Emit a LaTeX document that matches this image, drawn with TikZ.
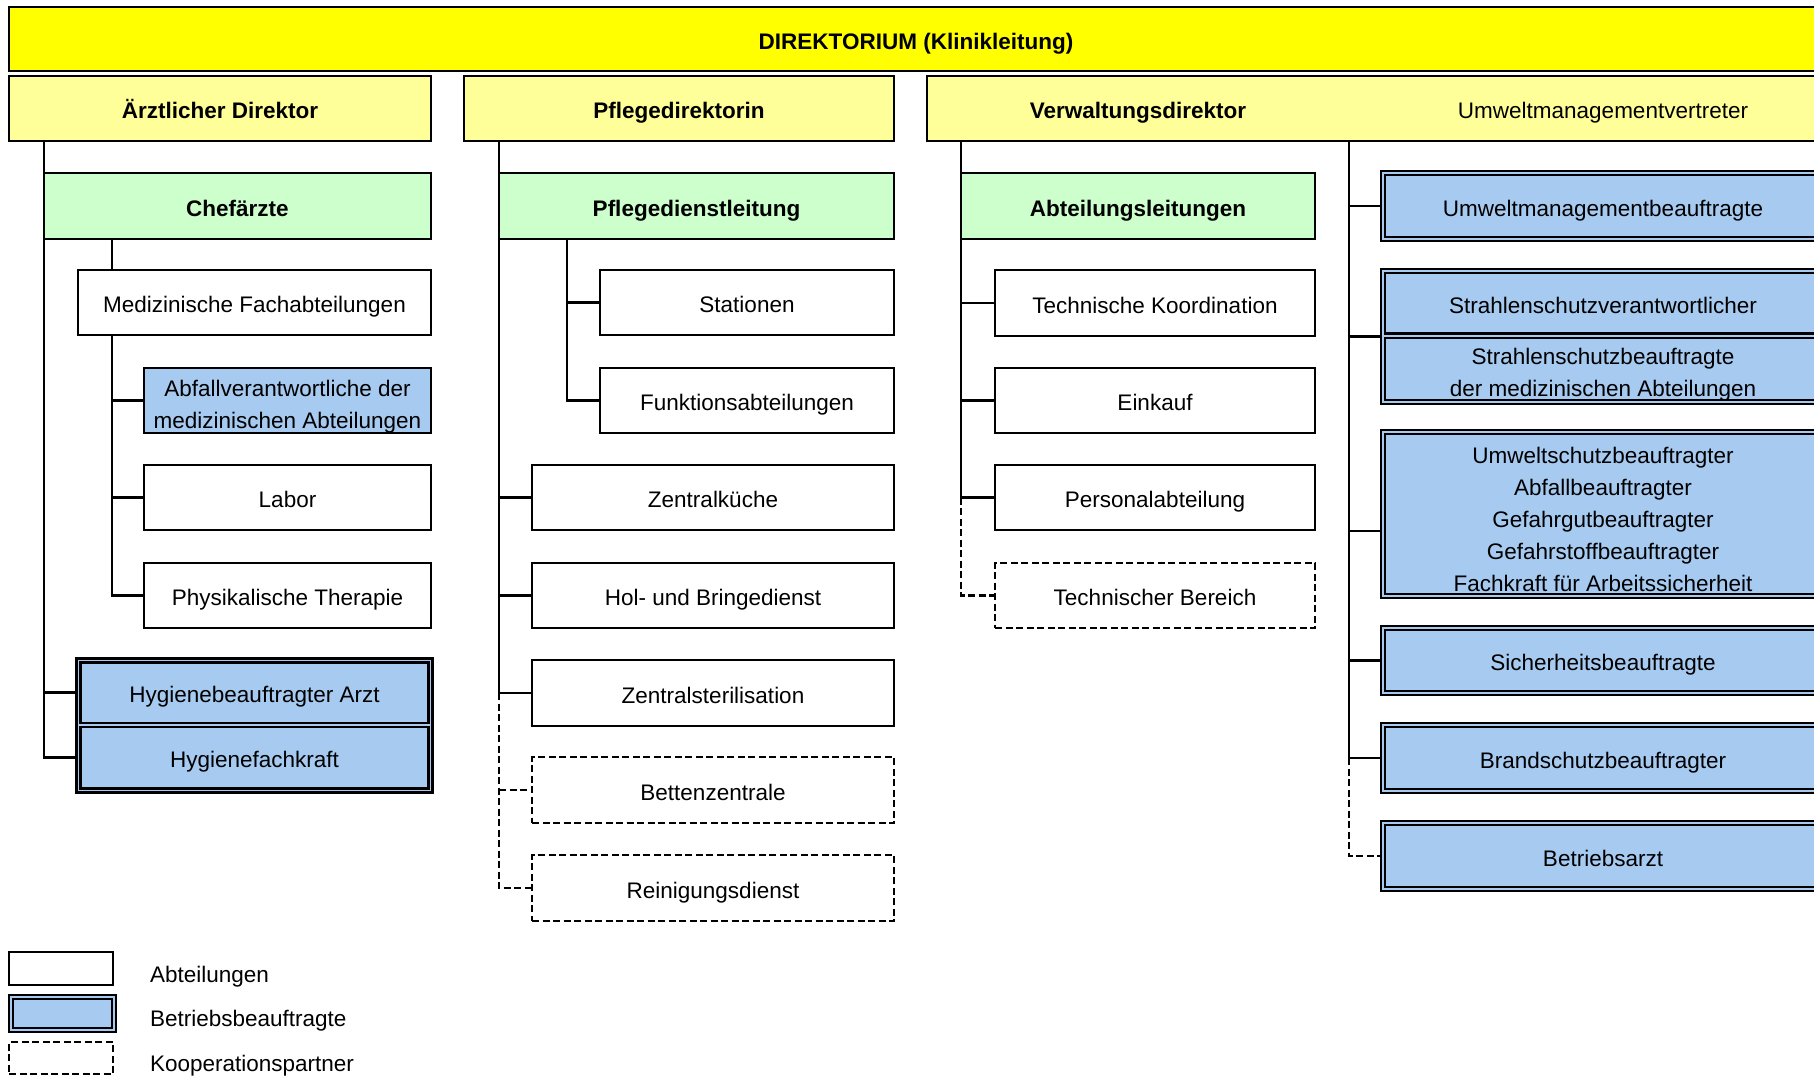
\documentclass[tikz,border=0pt]{standalone}
\usepackage{fontspec}
\setmainfont{Liberation Sans}
\usetikzlibrary{calc}
\definecolor{topyellow}{HTML}{FFFF00}
\definecolor{lyellow}{HTML}{FFFF99}
\definecolor{lgreen}{HTML}{CCFFCC}
\definecolor{pblue}{HTML}{A6CAF0}
\newcommand\orgfs{\fontsize{22.5}{32}\selectfont}
\newcommand\mkbox[7]{\node[#1, minimum width={#5-#3}, minimum height={#6-#4}] (#2) at ({(#3+#5)/2},{(#4+#6)/2}) {#7};}
\begin{document}
\begin{tikzpicture}[x=1pt,y=-1pt,
  basebox/.style={rectangle, inner sep=0pt, outer sep=0pt, font=\orgfs, text height=22pt, text depth=2pt},
  txt/.style={basebox},
  mtxt/.style={rectangle, inner sep=0pt, outer sep=0pt, font=\orgfs, align=center},
  topbox/.style={basebox, draw, line width=2.7pt, fill=topyellow, font=\orgfs\bfseries},
  head/.style={basebox, draw, line width=2.7pt, fill=lyellow, font=\orgfs\bfseries},
  lead/.style={basebox, draw, line width=2.7pt, fill=lgreen, font=\orgfs\bfseries},
  dept/.style={basebox, draw, line width=2.7pt, fill=white},
  coop/.style={basebox, draw, line width=2.4pt, fill=white, dash pattern=on 7pt off 3.5pt},
  bsingle/.style={basebox, draw, line width=2.7pt, fill=pblue},
  bout/.style={basebox, draw, line width=2.2pt, fill=pblue},
  binn/.style={basebox, draw, line width=2.2pt, fill=pblue},
  conn/.style={line width=2.7pt},
  thinconn/.style={line width=2.3pt},
  dconn/.style={line width=2.3pt, dash pattern=on 7pt off 3.5pt}]
\useasboundingbox (0,0) rectangle (1814,1076);
\clip (0,0) rectangle (1814,1076);
\fill[white] (0,0) rectangle (1814,1076);

% top level
\mkbox{topbox}{dir}{9}{7}{1823}{71}{DIREKTORIUM (Klinikleitung)}
\mkbox{head}{ad}{9}{76}{431}{141}{Ärztlicher Direktor}
\mkbox{head}{pd}{464}{76}{894}{141}{Pflegedirektorin}
\mkbox{head}{vd}{927}{76}{1830}{141}{}
\node[txt, font=\orgfs\bfseries] (vdt) at (1138,108.5) {Verwaltungsdirektor};
\node[txt] (umv) at (1603,108.5) {Umweltmanagementvertreter};

% left column
\mkbox{lead}{cf}{44}{173}{431}{239}{Chefärzte}
\mkbox{dept}{med}{78}{270}{431}{335}{Medizinische Fachabteilungen}
\mkbox{bsingle}{abf}{144}{368}{431}{433}{}
\node[mtxt] (abft) at (287.5,406.5) {Abfallverantwortliche der\\medizinischen Abteilungen};
\mkbox{dept}{lab}{144}{465}{431}{530}{Labor}
\mkbox{dept}{phy}{144}{563}{431}{628}{Physikalische Therapie}
\mkbox{bout}{hyg}{76.5}{658.5}{432.5}{792.5}{}
\mkbox{binn}{hyga}{80.5}{662.5}{428.5}{723}{Hygienebeauftragter Arzt}
\mkbox{binn}{hygf}{80.5}{727}{428.5}{788.5}{Hygienefachkraft}

% middle column
\mkbox{lead}{pdl}{499}{173}{894}{239}{Pflegedienstleitung}
\mkbox{dept}{sta}{600}{270}{894}{335}{Stationen}
\mkbox{dept}{funk}{600}{368}{894}{433}{Funktionsabteilungen}
\mkbox{dept}{zk}{532}{465}{894}{530}{Zentralküche}
\mkbox{dept}{hol}{532}{563}{894}{628}{Hol- und Bringedienst}
\mkbox{dept}{zst}{532}{660}{894}{726}{Zentralsterilisation}
\mkbox{coop}{bett}{532}{757}{894}{823}{Bettenzentrale}
\mkbox{coop}{rein}{532}{855}{894}{921}{Reinigungsdienst}

% administration column
\mkbox{lead}{al}{961}{173}{1315}{239}{Abteilungsleitungen}
\mkbox{dept}{tk}{995}{270}{1315}{336}{Technische Koordination}
\mkbox{dept}{ek}{995}{368}{1315}{433}{Einkauf}
\mkbox{dept}{pers}{995}{465}{1315}{530}{Personalabteilung}
\mkbox{coop}{tb}{995}{563}{1315}{628}{Technischer Bereich}

% environment column
\mkbox{bout}{umbo}{1381}{171}{1830}{241}{}
\mkbox{binn}{umb}{1385}{175}{1821}{237}{Umweltmanagementbeauftragte}
\mkbox{bout}{stro}{1381}{269}{1830}{404}{}
\mkbox{binn}{strv}{1385}{273}{1821}{333.5}{Strahlenschutzverantwortlicher}
\mkbox{binn}{strb}{1385}{338}{1821}{400}{}
\node[mtxt] (strbt) at (1603,374.5) {Strahlenschutzbeauftragte\\der medizinischen Abteilungen};
\mkbox{bout}{usgo}{1381}{430}{1830}{598}{}
\mkbox{binn}{usg}{1385}{434}{1821}{594}{}
\node[mtxt] (usgt) at (1603,519.5) {Umweltschutzbeauftragter\\Abfallbeauftragter\\Gefahrgutbeauftragter\\Gefahrstoffbeauftragter\\Fachkraft für Arbeitssicherheit};
\mkbox{bout}{sbo}{1381}{626}{1830}{695}{}
\mkbox{binn}{sb}{1385}{630}{1821}{691}{Sicherheitsbeauftragte}
\mkbox{bout}{bso}{1381}{723}{1830}{793}{}
\mkbox{binn}{bs}{1385}{727}{1821}{789}{Brandschutzbeauftragter}
\mkbox{bout}{bao}{1381}{821}{1830}{891}{}
\mkbox{binn}{ba}{1385}{825}{1821}{887}{Betriebsarzt}

% legend
\mkbox{dept}{lg1}{9}{952}{113}{985}{}
\node[txt, anchor=west] (lg1t) at (150,972.5) {Abteilungen};
\mkbox{bout}{lg2o}{9}{995}{116}{1032}{}
\mkbox{binn}{lg2}{13}{999}{112}{1028}{}
\node[txt, anchor=west] (lg2t) at (150,1016.5) {Betriebsbeauftragte};
\mkbox{coop}{lg3}{9}{1042}{113}{1074}{}
\node[txt, anchor=west] (lg3t) at (150,1061) {Kooperationspartner};

% trunk positions
\coordinate (tB) at (112,0);
\coordinate (tD) at (567,0);
\coordinate (tF) at (1349,0);

% connectors left
\draw[conn] (ad.south -| cf.west) -- (cf.west |- hygf) -- (hyg.west |- hygf);
\draw[conn] (cf.west |- hyga) -- (hyg.west |- hyga);
\draw[conn] (cf.south -| tB) -- (med.north -| tB);
\draw[conn] (med.south -| tB) -- (tB |- phy) -- (phy.west);
\draw[conn] (tB |- abf) -- (abf.west);
\draw[conn] (tB |- lab) -- (lab.west);

% connectors middle
\draw[conn] (pd.south -| pdl.west) -- (pdl.west |- zst) -- (zst.west);
\draw[conn] (pdl.west |- zk) -- (zk.west);
\draw[conn] (pdl.west |- hol) -- (hol.west);
\draw[dconn] (pdl.west |- zst) -- (pdl.west |- rein) -- (rein.west);
\draw[dconn] (pdl.west |- bett) -- (bett.west);
\draw[conn] (pdl.south -| tD) -- (tD |- funk) -- (funk.west);
\draw[conn] (tD |- sta) -- (sta.west);

% connectors administration
\draw[conn] (vd.south -| al.west) -- (al.west |- pers) -- (pers.west);
\draw[conn] (al.west |- tk) -- (tk.west);
\draw[conn] (al.west |- ek) -- (ek.west);
\draw[dconn] (al.west |- pers) -- (al.west |- tb) -- (tb.west);

% connectors environment
\draw[thinconn] (vd.south -| tF) -- (tF |- bso) -- (bso.west);
\draw[thinconn] (tF |- umbo) -- (umbo.west);
\draw[thinconn] (tF |- stro) -- (stro.west);
\draw[thinconn] ($(tF |- usgo)+(0,17)$) -- ($(usgo.west)+(0,17)$);
\draw[thinconn] (tF |- sbo) -- (sbo.west);
\draw[dconn] (tF |- bso) -- (tF |- bao) -- (bao.west);
\end{tikzpicture}
\end{document}
